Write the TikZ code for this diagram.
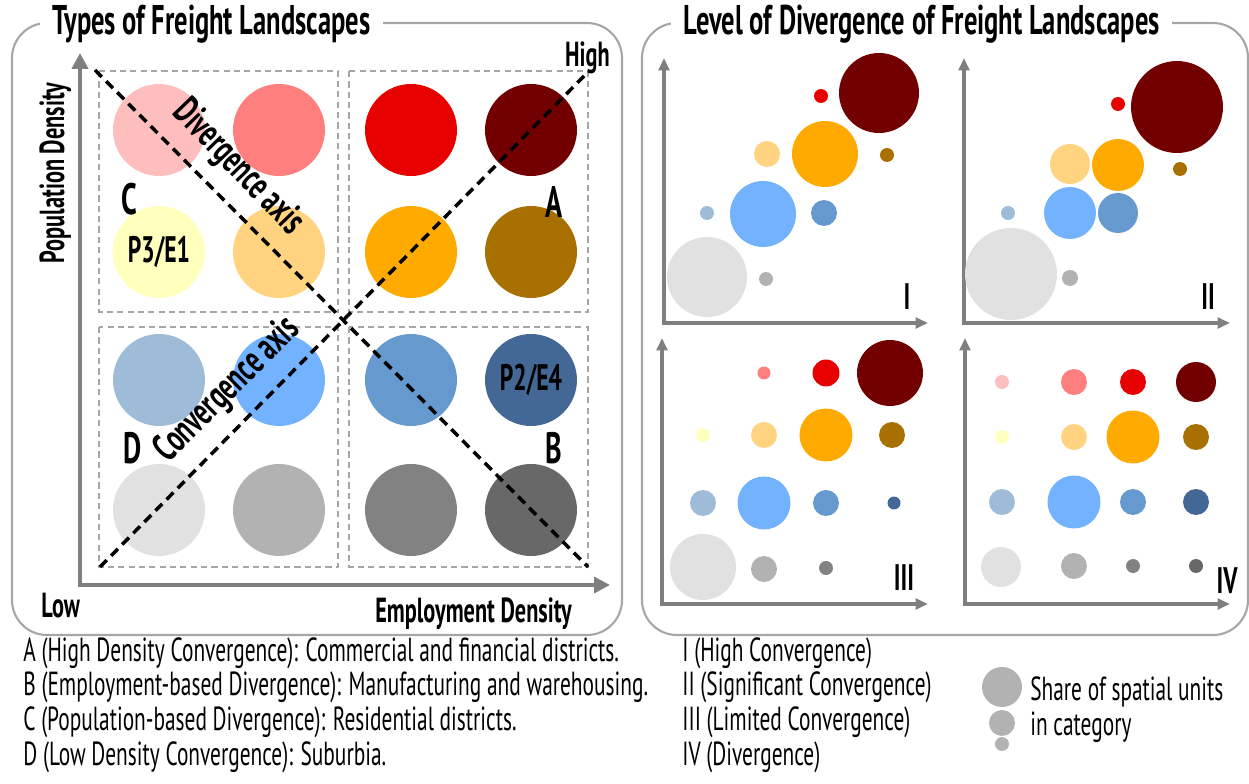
\documentclass[tikz,border=0pt]{standalone}
\usepackage{fontspec}
\setmainfont{PT Sans}[FakeStretch=0.64]
\usetikzlibrary{arrows.meta}

\definecolor{frameGray}{HTML}{A6A6A6}
\definecolor{axisGray}{HTML}{7F7F7F}
% rows: pop. density high -> low, columns: emp. density low -> high
\definecolor{col11}{HTML}{FFBEBE}
\definecolor{col12}{HTML}{FF7F7F}
\definecolor{col13}{HTML}{E60000}
\definecolor{col14}{HTML}{730000}
\definecolor{col21}{HTML}{FFFFBE}
\definecolor{col22}{HTML}{FFD37F}
\definecolor{col23}{HTML}{FFAA00}
\definecolor{col24}{HTML}{A87000}
\definecolor{col31}{HTML}{9EBBD7}
\definecolor{col32}{HTML}{73B2FF}
\definecolor{col33}{HTML}{6699CD}
\definecolor{col34}{HTML}{436895}
\definecolor{col41}{HTML}{E1E1E1}
\definecolor{col42}{HTML}{B2B2B2}
\definecolor{col43}{HTML}{828282}
\definecolor{col44}{HTML}{686868}

\begin{document}
\begin{tikzpicture}[x=0.02cm,y=-0.02cm,
	frame/.style={draw=frameGray,line width=1.2pt,rounded corners=0.7cm},
	head/.style={fill=white,inner xsep=7pt,inner ysep=1pt,anchor=base west,font=\bfseries\fontsize{23.6}{26}\selectfont},
	quad/.style={draw=frameGray,line width=1.1pt,dash pattern=on 3.5pt off 2.4pt},
	diag/.style={draw=black,line width=2pt,dash pattern=on 5.5pt off 3.5pt},
	bigaxis/.style={draw=axisGray,line width=2.8pt,{Triangle[length=9pt,width=9pt]}-{Triangle[length=9pt,width=9pt]}},
	smallaxis/.style={draw=axisGray,line width=2pt,{Triangle[length=7pt,width=6pt]}-{Triangle[length=7pt,width=6pt]}},
	dot/.style={circle,inner sep=0pt,minimum size=1.84cm,fill=#1},
	bub/.style={circle,inner sep=0pt,minimum size=#1*0.04cm},
	axlbl/.style={font=\bfseries\fontsize{19.8}{22}\selectfont,inner sep=0pt},
	slant/.style={font=\bfseries\fontsize{22.5}{25}\selectfont,inner sep=0pt},
	letter/.style={font=\bfseries\fontsize{25}{28}\selectfont,inner sep=0pt},
	inlbl/.style={font=\bfseries\fontsize{21}{24}\selectfont,inner sep=0pt},
	roman/.style={anchor=base,font=\bfseries\fontsize{21}{24}\selectfont,inner sep=0pt},
	desc/.style={anchor=base west,font=\fontsize{19}{22}\selectfont,inner sep=0pt}]

\useasboundingbox (0,0) rectangle (1249,784);

%% panels
\draw[frame] (12,23) rectangle (622,635);
\draw[frame] (642,23) rectangle (1248,635);
\node[head] (typesTitle) at (40,35) {Types of Freight Landscapes};
\node[head] (levelTitle) at (671,35) {Level of Divergence of Freight Landscapes};

%% quadrant boxes
\draw[quad] (99,71) rectangle (338,312);
\draw[quad] (349,71) rectangle (588,312);
\draw[quad] (99,327) rectangle (338,567);
\draw[quad] (349,327) rectangle (588,567);

%% circles
\foreach \y/\r in {130/1,252/2,380/3,510/4}{
	\foreach \x/\k in {159/1,279/2,411/3,531/4}{
		\node[dot=col\r\k] (q\r\k) at (\x,\y) {};
	}
}
\node[inlbl] at (q21) {P3/E1};
\node[inlbl] at (q34) {P2/E4};

\node[letter] (lblC) at (129,199) {C};
\node[letter] (lblA) at (554,202) {A};
\node[letter] (lblD) at (133,448) {D};
\node[letter] (lblB) at (554,448) {B};

%% axes
\coordinate (orig) at (80,585);
\coordinate (ytip) at (80,53);
\coordinate (xtip) at (610,585);
\draw[bigaxis] (ytip) -- (orig) -- (xtip);
\node[axlbl,anchor=base,rotate=90] (popLbl) at (64,173) {Population Density};
\node[axlbl,anchor=base west] (empLbl) at (375,622) {Employment Density};
\node[axlbl,anchor=base west] (low) at (41,617) {Low};
\node[axlbl,anchor=base east] (high) at (610,67) {High};

%% divergence / convergence
\coordinate (divA) at (95,70);
\coordinate (divB) at (588,567);
\coordinate (conA) at (100,567);
\coordinate (conB) at (588,72);
\draw[diag] (divA) -- (divB);
\draw[diag] (conA) -- (conB);
\node[slant,rotate=-46] (divLbl) at (238,168) {Divergence axis};
\node[slant,rotate=45] (conLbl) at (228,390) {Convergence axis};

%% chart I
\draw[smallaxis] (664,58) -- (664,323) -- (928,323);
\foreach \x/\y/\r/\c [count=\n] in {879/93/40/col14,821/96/7/col13,825/154/33/col23,767/154/13/col22,887/155/7/col24,
	763/214/33/col32,707/213/7/col31,824/213/13/col33,707/277/40/col41,766/279/7/col42}{
	\node[bub=\r,fill=\c] (one\n) at (\x,\y) {};
}
\node[roman] (numI) at (907,310) {I};

%% chart II
\draw[smallaxis] (964,58) -- (964,323) -- (1230,323);
\foreach \x/\y/\r/\c [count=\n] in {1177/107/46/col14,1118/104/7/col13,1180/169/7/col24,1070/164/20/col22,1118/165/26/col23,
	1008/213/7/col31,1070/213/26/col32,1118/213/20/col33,1011/274/46/col41,1070/278/8/col42}{
	\node[bub=\r,fill=\c] (two\n) at (\x,\y) {};
}
\node[roman] (numII) at (1208,310) {II};

%% chart III
\draw[smallaxis] (662,338) -- (662,604) -- (928,604);
\foreach \x/\y/\r/\c [count=\n] in {764/373/6.5/col12,826/373/13.5/col13,890/373/33/col14,
	703/435/7/col21,764/435/13/col22,826/435/26.5/col23,892/435/13/col24,
	703/503/13/col31,764/503/26.5/col32,826/503/13/col33,894/503/6.5/col34,
	703/567/33/col41,764/569/13/col42,826/568/7/col43}{
	\node[bub=\r,fill=\c] (three\n) at (\x,\y) {};
}
\node[roman] (numIII) at (904,590) {III};

%% chart IV
\draw[smallaxis] (965,338) -- (965,604) -- (1230,604);
\foreach \x/\y/\r/\c [count=\n] in {1002/382/7/col11,1074/382/13/col12,1133/382/13/col13,1196/382/20/col14,
	1002/437/7/col21,1074/437/13/col22,1133/437/26.5/col23,1196/437/13/col24,
	1002/502/13/col31,1074/502/26.5/col32,1133/502/13/col33,1196/502/13/col34,
	1001/567/20/col41,1074/566/13/col42,1133/566/7/col43,1196/566/7/col44}{
	\node[bub=\r,fill=\c] (four\n) at (\x,\y) {};
}
\node[roman] (numIV) at (1227,593) {IV};

%% legend
\node[desc] (typeA) at (23,661) {A (High Density Convergence): Commercial and financial districts.};
\node[desc] (typeB) at (23,695) {B (Employment-based Divergence): Manufacturing and warehousing.};
\node[desc] (typeC) at (23,730) {C (Population-based Divergence): Residential districts.};
\node[desc] (typeD) at (23,765) {D (Low Density Convergence): Suburbia.};
\node[desc] (lvlI) at (682,661) {I (High Convergence)};
\node[desc] (lvlII) at (682,695) {II (Significant Convergence)};
\node[desc] (lvlIII) at (682,730) {III (Limited Convergence)};
\node[desc] (lvlIV) at (682,765) {IV (Divergence)};

\node[bub=20,fill=col42] (shareBig) at (1002,687) {};
\node[bub=13,fill=col42] (shareMid) at (1002,723) {};
\node[bub=7,fill=col42] (shareSmall) at (1002,744) {};
\node[desc] (share1) at (1030,700) {Share of spatial units};
\node[desc] (share2) at (1030,735) {in category};

\end{tikzpicture}
\end{document}
